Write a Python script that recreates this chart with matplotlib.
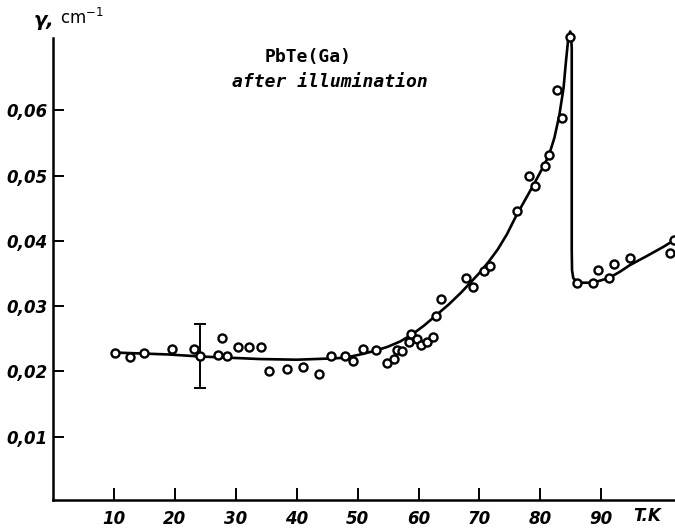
import matplotlib
matplotlib.use("Agg")
import matplotlib.pyplot as plt
from matplotlib.transforms import blended_transform_factory

# measured points (T in K, gamma in cm^-1)
T_points = [10.2, 12.6, 15.0, 19.6, 23.2, 24.1, 27.1, 27.8, 28.6, 30.3, 32.2, 34.2,
            35.5, 38.4, 41.1, 43.6, 45.6, 47.9, 49.2, 50.9, 53.0, 54.9, 55.9, 56.4,
            57.3, 58.5, 58.8, 59.7, 60.4, 61.4, 62.3, 62.9, 63.7, 67.8, 68.9, 70.7,
            71.7, 76.2, 78.1, 79.1, 80.8, 81.4, 82.8, 83.5, 84.8, 86.0, 88.6, 89.5,
            91.2, 92.1, 94.7, 101.2, 101.9]
gamma_points = [0.0228, 0.0222, 0.0229, 0.0235, 0.0235, 0.0224, 0.0225, 0.0252, 0.0223,
                0.0237, 0.0237, 0.0237, 0.0200, 0.0204, 0.0207, 0.0196, 0.0223, 0.0223,
                0.0216, 0.0234, 0.0233, 0.0213, 0.0219, 0.0233, 0.0232, 0.0245, 0.0258,
                0.0250, 0.0240, 0.0245, 0.0253, 0.0285, 0.0311, 0.0343, 0.0329, 0.0354,
                0.0362, 0.0446, 0.0500, 0.0484, 0.0515, 0.0531, 0.0632, 0.0588, 0.0712,
                0.0335, 0.0335, 0.0355, 0.0343, 0.0364, 0.0374, 0.0382, 0.0402]

# hand-drawn guide curve nodes
curve_T = [10, 19, 24, 34, 40, 46, 48, 50.9, 53, 55, 57, 59, 61, 63, 65, 67, 68.5, 70,
           71.5, 73, 74.5, 76, 77.5, 79, 80.2, 81.4, 82.3, 83.1, 83.8, 84.2, 84.6, 84.9,
           85.05, 85.15, 85.15, 85.2, 85.4, 86.2, 88.6, 91.2, 93.1, 94.7, 97.5, 100.2, 102.1]
curve_gamma = [0.0229, 0.0226, 0.0223, 0.0219, 0.0218, 0.0220, 0.0221, 0.0227, 0.0232,
               0.0238, 0.0246, 0.0257, 0.0271, 0.0287, 0.0303, 0.0321, 0.0336, 0.0351,
               0.0368, 0.0387, 0.0410, 0.0438, 0.0463, 0.0488, 0.0509, 0.0531, 0.0558,
               0.0592, 0.0634, 0.0675, 0.0712, 0.0721, 0.0713, 0.0695, 0.0386, 0.0355,
               0.0343, 0.0336, 0.0336, 0.0343, 0.0353, 0.0363, 0.0377, 0.0391, 0.0402]

# representative error bar
err_T = [24.1]
err_gamma = [0.0224]
err_size = [0.0049]

x_ticks = [10, 20, 30, 40, 50, 60, 70, 80, 90]
x_ticklabels = ["10", "20", "30", "40", "50", "60", "70", "80", "90"]
y_ticks = [0.01, 0.02, 0.03, 0.04, 0.05, 0.06]
y_ticklabels = ["0,01", "0,02", "0,03", "0,04", "0,05", "0,06"]

fig = plt.figure(figsize=(6.75, 5.29), dpi=100)
ax = fig.add_axes([53 / 675, 29 / 529, 622 / 675, 462 / 529])

ax.plot(curve_T, curve_gamma, color="black", lw=1.9, solid_joinstyle="round",
        solid_capstyle="round", clip_on=False, zorder=2)
ax.plot(T_points, gamma_points, linestyle="none", marker="o", ms=5.8,
        mfc="white", mec="black", mew=1.7, clip_on=False, zorder=3)
ax.errorbar(err_T, err_gamma, yerr=err_size, fmt="none", ecolor="black",
            elinewidth=1.4, capsize=4, capthick=1.4, zorder=2)

ax.set_xlim(0, 102.1)
ax.set_ylim(0.0003, 0.0711)

for s in ["top", "right"]:
    ax.spines[s].set_visible(False)
for s in ["left", "bottom"]:
    ax.spines[s].set_linewidth(1.8)

tickfont = dict(family="DejaVu Sans", style="italic", weight="bold", size=12)
ax.set_xticks(x_ticks)
ax.set_xticklabels(x_ticklabels, **tickfont)
ax.set_yticks(y_ticks)
ax.set_yticklabels(y_ticklabels, **tickfont)
ax.tick_params(axis="x", direction="in", length=8.5, width=1.4, pad=7)
ax.tick_params(axis="y", direction="in", length=8, width=1.4, pad=4)

trans = blended_transform_factory(ax.transData, fig.transFigure)
ax.text(97.5, 13 / 529, "T.K", transform=trans, ha="center", va="center", **tickfont)

fig.text(34 / 675, 1 - 20 / 529, "γ,", family="DejaVu Sans", style="italic",
         weight="bold", size=14, ha="left", va="center")
fig.text(60 / 675, 1 - 18 / 529, "cm$^{-1}$", family="DejaVu Sans", size=12,
         ha="left", va="center")

fig.text(308 / 675, 1 - 57 / 529, "PbTe(Ga)", family="DejaVu Sans Mono",
         weight="bold", size=13, ha="center", va="center")
fig.text(330 / 675, 1 - 82 / 529, "after illumination", family="DejaVu Sans Mono",
         weight="bold", style="italic", size=13, ha="center", va="center")

fig.savefig("out.png", dpi=100, facecolor="white")
